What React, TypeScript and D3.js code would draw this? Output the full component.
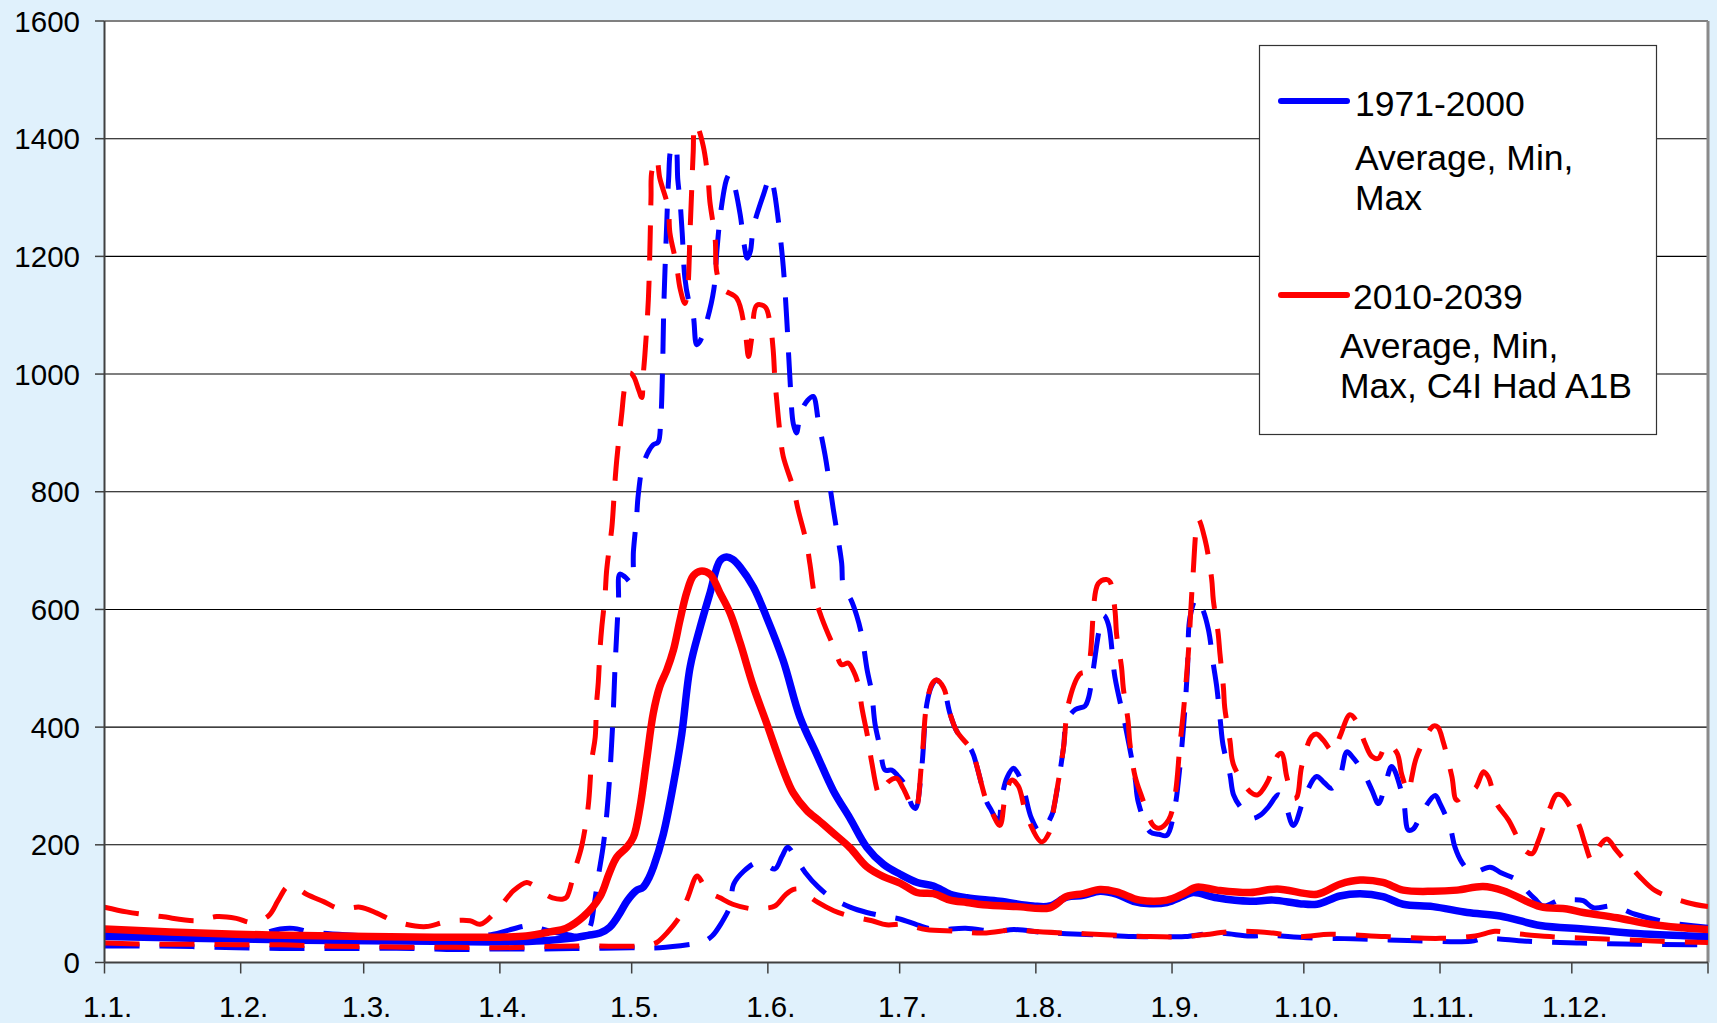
import React from "react";
import * as d3 from "d3";

// ---------- DATA (day of year, value) ----------
const monthTickDays = [0, 31, 59, 90, 120, 151, 181, 212, 243, 273, 304, 334, 365];
const monthTickLabels = ["1.1.", "1.2.", "1.3.", "1.4.", "1.5.", "1.6.", "1.7.", "1.8.", "1.9.", "1.10.", "1.11.", "1.12.", ""];
const yTicks = [0, 200, 400, 600, 800, 1000, 1200, 1400, 1600];

const blueAvg: [number, number][] = [
  [0, 44], [15, 42], [30, 40], [45, 38], [60, 37], [75, 36], [90, 35], [100, 37], [106, 41], [110, 46],
  [112.8, 50], [115, 60], [117, 80], [119, 105], [121, 122], [122.6, 128], [124, 145], [125, 163],
  [127.2, 218], [129.5, 303], [131.4, 388], [133.3, 502], [135.6, 570], [137.8, 627], [140.1, 683],
  [141.6, 689], [143, 685], [144.7, 672], [147.7, 638], [150.7, 587], [154.5, 513], [158.3, 417],
  [162.1, 354], [165.9, 292], [169.7, 245], [173.5, 196], [177.3, 167], [181.1, 150], [185, 136],
  [188.7, 130], [192.5, 116], [196.3, 110], [203.8, 104], [211.4, 96], [215.2, 96], [219, 111],
  [222.8, 114], [226.6, 121], [230.4, 116], [234.2, 104], [238, 100], [241.8, 102], [245.6, 113],
  [247.8, 119], [253.2, 110], [260.8, 104], [266, 106], [272, 100], [276, 99], [281.2, 113],
  [285.8, 117], [291, 112], [295.6, 99], [302.4, 95], [310.2, 85], [317.7, 79], [326.8, 63],
  [336.6, 57], [344.3, 52], [351.8, 48], [365, 44],
];

const redAvg: [number, number][] = [
  [0, 57], [15, 52], [30, 48], [45, 46], [60, 44], [75, 43], [90, 43], [96, 45], [101.4, 52],
  [105, 58], [109, 78], [112.8, 112], [114.8, 150], [116.6, 179], [118.9, 196], [120.4, 213],
  [121.9, 264], [123.4, 344], [124.9, 423], [126.4, 469], [128, 497], [129.5, 531], [131, 582],
  [132.5, 628], [134, 657], [135.6, 665], [137.8, 660], [140.1, 628], [142.4, 594], [144.7, 543],
  [147.7, 469], [150.7, 407], [154.5, 327], [156.8, 288], [159.8, 259], [162.8, 240], [165.9, 220],
  [169.7, 195], [173.5, 163], [177.3, 146], [181.1, 135], [184.9, 119], [188.7, 117], [192.5, 106],
  [196.3, 102], [200, 98], [207.6, 95], [215.2, 93], [219, 112], [222.8, 117], [226.6, 124],
  [230.4, 120], [235.7, 106], [241.8, 106], [245.6, 117], [248.6, 128], [253.2, 123], [260.8, 119],
  [266.9, 125], [276, 116], [281.2, 133], [285.8, 140], [291, 136], [295.6, 123], [302.4, 121],
  [307.9, 123], [313.8, 129], [318.4, 122], [326.8, 95], [332.9, 91], [336.6, 85], [344.3, 76],
  [351.8, 65], [359.3, 59], [365, 56],
];

const blueMin: [number, number][] = [
  [0, 28], [10, 28], [20, 27], [30, 25], [40, 24], [50, 24], [60, 24], [70, 24], [80, 22], [90, 23],
  [100, 23], [110, 24], [120, 25], [126.4, 25], [133.7, 31], [136, 34], [138.3, 45], [140.5, 68],
  [142.4, 96], [143.2, 133], [145.5, 155], [148.5, 170], [150.5, 166], [152.6, 159], [154.2, 180],
  [155.5, 196], [157, 182], [159.5, 153], [162.5, 128], [165.5, 110], [169.7, 94], [173.5, 85],
  [177.3, 79], [181, 74], [185, 64], [189, 56], [196, 58], [203, 53], [207, 56], [214, 51],
  [219, 49], [226, 47], [234, 44], [241, 44], [246, 44], [253, 50], [260.8, 45], [265, 46],
  [273.7, 42], [286, 40], [298.7, 37], [311, 36], [314, 41], [324, 36], [336, 33], [349, 31],
  [361, 30], [365, 30],
];

const redMin: [number, number][] = [
  [0, 33], [10, 31], [20, 31], [30, 30], [40, 30], [50, 28], [60, 27], [70, 26], [80, 26], [90, 25],
  [100, 27], [110, 28], [121.4, 28], [124, 30], [125.7, 34], [128, 50], [131, 79], [132.8, 111],
  [134.9, 147], [136.3, 133], [138, 118], [140.1, 110], [143, 99], [147.6, 91], [150, 92],
  [152.6, 96], [155, 115], [156.7, 124], [158.7, 124], [160.5, 112], [162.4, 102], [166, 88],
  [169.7, 79], [174.7, 71], [178, 64], [181.9, 65], [187, 56], [194, 53], [200, 50], [207.6, 56],
  [211, 53], [219, 50], [223, 49], [231, 46], [238, 44], [246, 44], [250, 47], [258, 53], [266, 50],
  [272, 44], [279, 48], [291.5, 44], [304, 41], [312, 45], [316.5, 53], [320, 50], [329, 44],
  [341.6, 40], [354, 36], [365, 34],
];

const blueMax: [number, number][] = [
  [0, 48], [10, 47], [20, 46], [30, 47], [36, 50], [40, 57], [43, 58], [47, 52], [55, 47], [65, 44],
  [75, 42], [83, 44], [88.5, 48], [92, 55], [96.1, 62], [98, 60], [101, 54], [105, 48], [109, 45],
  [110.5, 60], [111.5, 100], [112.4, 146], [113.5, 197], [114.2, 242], [115, 316], [115.4, 367],
  [115.8, 424], [116.2, 500], [116.6, 560], [117, 615], [117.3, 660], [118.5, 655], [120, 645],
  [120.4, 699], [121.1, 755], [121.5, 795], [122.7, 849], [124.9, 880], [126, 884], [126.6, 920],
  [127, 1000], [127.3, 1110], [127.6, 1180], [128, 1260], [128.4, 1330], [129.1, 1385],
  [129.9, 1388], [130.5, 1330], [131, 1294], [131.5, 1240], [132.1, 1164], [132.9, 1127],
  [134, 1100], [134.8, 1050], [135.5, 1055], [137.1, 1090], [138.7, 1144], [139.4, 1210],
  [140.3, 1277], [141.6, 1331], [142.3, 1340], [143.1, 1328], [144.7, 1271], [145.6, 1220],
  [146.3, 1197], [147, 1208], [147.7, 1249], [150, 1305], [151.5, 1334], [152.2, 1320],
  [153.4, 1260], [154.5, 1183], [155.3, 1093], [156, 996], [156.8, 915], [157.5, 900], [158.5, 935],
  [160, 955], [161.3, 962], [162.5, 920], [164, 863], [164.8, 826], [165.9, 770], [166.7, 733],
  [167.8, 679], [168.2, 639], [170, 615], [171.2, 590], [172.4, 555], [173.6, 497], [174.6, 461],
  [175.4, 405], [176.5, 367], [177.7, 327], [179.2, 327], [180.5, 318], [182.2, 302], [183.8, 267],
  [184.6, 262], [186, 330], [187.2, 440], [188.3, 470], [189.4, 480], [191, 465], [192.5, 422],
  [194, 393], [197, 365], [197.8, 353], [200.8, 273], [201.6, 262], [203.5, 240], [204.2, 279],
  [205.5, 315], [206.9, 330], [208, 320], [209.2, 296], [211, 245], [213, 222], [215.6, 250],
  [216.2, 267], [218.3, 365], [219, 410], [221, 430], [223.2, 436], [224, 450], [227.4, 590],
  [228.5, 575], [230, 485], [232.3, 405], [234.6, 313], [235.3, 273], [238, 222], [240, 218],
  [241.8, 216], [243.7, 267], [244.4, 305], [245.6, 399], [246.5, 497], [247.1, 587], [248.6, 619],
  [250, 600], [251.3, 565], [252.4, 507], [253.2, 467], [254, 410], [254.6, 370], [256.2, 319],
  [257, 285], [259, 260], [261.1, 245], [263, 250], [265, 265], [267.2, 285], [268.5, 275],
  [270.6, 233], [273.3, 284], [275.9, 316], [277.6, 306], [279.3, 296], [281.2, 316], [282.8, 358],
  [284, 350], [286.5, 324], [288.5, 293], [290, 270], [291.5, 301], [293, 333], [295.6, 279],
  [296.8, 225], [297.9, 227], [300.2, 259], [302.9, 284], [304, 270], [306.3, 230], [307.4, 196],
  [309, 170], [311.2, 153], [315.4, 162], [318, 152], [321.8, 139], [324, 120], [325.6, 108],
  [327.5, 96], [331.7, 108], [334, 107], [336.6, 105], [338.9, 93], [343.5, 96], [348.4, 82],
  [356, 68], [365, 60],
];

const redMax: [number, number][] = [
  [0, 94], [5, 86], [8.5, 82], [13, 78], [21, 71], [25.5, 78], [30, 75], [33.5, 68], [37.3, 79],
  [39.5, 105], [41.5, 128], [43, 130], [46, 116], [50, 103], [53.6, 91], [58.2, 94], [62, 84],
  [65.7, 71], [70.7, 62], [73.3, 61], [78.3, 70], [83.2, 71], [85.5, 65], [89.6, 91], [93.1, 122],
  [96.1, 136], [97.2, 133], [99.9, 118], [102, 110], [104.4, 108], [105.2, 111], [107.1, 159],
  [108.6, 197], [110.1, 265], [110.9, 343], [111.7, 383], [112, 439], [112.4, 476], [112.8, 533],
  [113.2, 570], [113.9, 620], [114.3, 666], [115, 710], [115.5, 740], [116.2, 817], [116.6, 854],
  [117.7, 930], [118.5, 980], [119.6, 1002], [120.5, 995], [121.5, 975], [122.3, 960], [122.6, 996],
  [123, 1032], [123.8, 1127], [124.2, 1230], [124.4, 1300], [124.6, 1345], [125.7, 1366],
  [126.4, 1333], [128.3, 1283], [128.7, 1240], [130.2, 1186], [131, 1146], [132.1, 1120],
  [132.7, 1140], [133.3, 1245], [133.7, 1320], [134, 1376], [134.4, 1425], [135, 1420],
  [136.3, 1387], [137.4, 1330], [137.8, 1293], [139, 1230], [139.4, 1172], [140.9, 1144],
  [143.9, 1129], [145.8, 1073], [146.6, 1030], [147.3, 1060], [148.5, 1117], [150.4, 1114],
  [151.5, 1086], [152.2, 1042], [152.6, 991], [153, 957], [153.8, 897], [154.5, 860], [156.8, 806],
  [157.9, 769], [159.8, 713], [160.6, 676], [161.7, 622], [163.3, 585], [166.3, 531], [167.8, 506],
  [169.3, 509], [170.5, 495], [171.6, 472], [172.4, 433], [173.9, 376], [174.6, 342], [176.5, 285],
  [178.4, 307], [180.3, 313], [181.8, 296], [184.5, 259], [186, 340], [187.2, 442], [188.5, 475],
  [189.4, 480], [191, 467], [192.5, 422], [194, 393], [197, 365], [197.8, 353], [200.8, 273],
  [201.6, 262], [203.8, 233], [205, 280], [206.5, 310], [208, 300], [209.9, 250], [213.3, 205],
  [215, 220], [216.2, 267], [218.3, 365], [219.4, 439], [222, 490], [223.6, 496], [226.2, 644],
  [228.1, 651], [228.9, 647], [230, 599], [230.4, 556], [231.5, 502], [231.9, 467], [233, 410],
  [233.4, 373], [234.6, 316], [236.1, 282], [238.7, 233], [240, 228], [242.2, 242], [243.7, 285],
  [244.8, 370], [245.6, 427], [246.7, 525], [247.7, 650], [249, 753], [250.5, 719], [252, 653],
  [252.4, 616], [253.5, 559], [253.9, 525], [254.7, 467], [255, 433], [256.2, 376], [257, 336],
  [260.8, 290], [262.5, 285], [264.6, 305], [267.2, 353], [268, 355], [269.1, 316], [270.6, 279],
  [271.4, 281], [272.5, 333], [274.8, 384], [276, 388], [277.4, 378], [279.7, 358], [281.2, 384],
  [283.5, 421], [285, 410], [286.9, 373], [288.5, 350], [290, 347], [291.9, 372], [294.2, 356],
  [295.3, 319], [296.8, 290], [297.6, 316], [298.7, 350], [302.5, 402], [303.5, 400], [304.8, 373],
  [306.7, 316], [307.8, 276], [310, 290], [312, 296], [313.9, 324], [315, 315], [316.9, 270],
  [319.6, 242], [323.4, 190], [325, 185], [326.4, 207], [329, 262], [330.5, 285], [331.7, 284],
  [335.5, 236], [337, 202], [338.6, 173], [340.4, 199], [342, 210], [344.2, 190], [349.2, 148],
  [353, 122], [360.2, 102], [365, 95],
];

// ---------- LAYOUT ----------
const W = 1717;
const H = 1023;
const X0 = 104.5;
const X1 = 1708;
const Y0 = 962.5;
const Y1 = 21;
const FONT = "'Liberation Sans', Arial, Helvetica, sans-serif";
const BLUE = "#0000FF";
const RED = "#FF0000";

export default function App() {
  const x = d3.scaleLinear().domain([0, 365]).range([X0, X1]);
  const y = d3.scaleLinear().domain([0, 1600]).range([Y0, Y1]);
  const line = d3
    .line<[number, number]>()
    .x((d) => x(d[0]))
    .y((d) => y(d[1]))
    .curve(d3.curveCatmullRom.alpha(0.5));

  const series = [
    { data: blueAvg, color: BLUE, dashed: false },
    { data: blueMin, color: BLUE, dashed: true },
    { data: blueMax, color: BLUE, dashed: true },
    { data: redAvg, color: RED, dashed: false },
    { data: redMin, color: RED, dashed: true },
    { data: redMax, color: RED, dashed: true },
  ];

  return (
    <svg
      width={W}
      height={H}
      style={{ position: "absolute", left: 0, top: 0, display: "block" }}
      fontFamily={FONT}
    >
      <rect x={0} y={0} width={W} height={H} fill="#E0F1FC" />
      <rect x={X0} y={Y1} width={X1 - X0} height={Y0 - Y1} fill="#FFFFFF" />
      <defs>
        <clipPath id="plotClip">
          <rect x={X0} y={Y1 - 4} width={X1 - X0} height={Y0 - Y1 + 4} />
        </clipPath>
      </defs>

      {/* gridlines */}
      {yTicks
        .filter((v) => v > 0 && v < 1600)
        .map((v) => (
          <line key={"g" + v} x1={X0} x2={X1} y1={y(v)} y2={y(v)} stroke="#000" strokeWidth={1.1} />
        ))}

      {/* plot border */}
      <line x1={X0} x2={X1} y1={Y1} y2={Y1} stroke="#808080" strokeWidth={2} />
      <line x1={X1} x2={X1} y1={Y1} y2={Y0} stroke="#8a8a8a" strokeWidth={3} />

      {/* series */}
      <g clipPath="url(#plotClip)">
        {series.map((s, i) => (
          <path
            key={i}
            d={line(s.data) || ""}
            fill="none"
            stroke={s.color}
            strokeWidth={s.dashed ? 5 : 7.5}
            strokeDasharray={s.dashed ? "35 20" : undefined}
            strokeLinejoin="round"
            strokeLinecap={s.dashed ? "butt" : "round"}
          />
        ))}
      </g>

      {/* axes */}
      <line x1={X0} x2={X0} y1={Y1} y2={Y0} stroke="#404040" strokeWidth={2} />
      <line x1={X0} x2={X1} y1={Y0} y2={Y0} stroke="#404040" strokeWidth={2} />

      {yTicks.map((v) => (
        <g key={"y" + v}>
          <line x1={95} x2={X0} y1={y(v)} y2={y(v)} stroke="#404040" strokeWidth={1.5} />
          <text x={80} y={y(v) + 10.5} textAnchor="end" fontSize={29.5} fill="#000">
            {v}
          </text>
        </g>
      ))}

      {monthTickDays.map((d, i) => (
        <g key={"x" + d}>
          <line x1={x(d)} x2={x(d)} y1={Y0} y2={Y0 + 11} stroke="#404040" strokeWidth={1.5} />
          {monthTickLabels[i] && (
            <text x={x(d) + 3} y={1017} textAnchor="middle" fontSize={29.5} fill="#000">
              {monthTickLabels[i]}
            </text>
          )}
        </g>
      ))}

      {/* legend */}
      <rect x={1259.5} y={45.5} width={397} height={389} fill="#FFFFFF" stroke="#333" strokeWidth={1.2} />
      <line x1={1281} x2={1347} y1={101} y2={101} stroke={BLUE} strokeWidth={6} strokeLinecap="round" />
      <text x={1355} y={116} fontSize={35.5} fill="#000">1971-2000</text>
      <text x={1355} y={170} fontSize={35.5} fill="#000">Average, Min,</text>
      <text x={1355} y={210} fontSize={35.5} fill="#000">Max</text>
      <line x1={1281} x2={1347} y1={295} y2={295} stroke={RED} strokeWidth={6} strokeLinecap="round" />
      <text x={1353} y={309} fontSize={35.5} fill="#000">2010-2039</text>
      <text x={1340} y={358} fontSize={35.5} fill="#000">Average, Min,</text>
      <text x={1340} y={398} fontSize={35.5} fill="#000">Max, C4I Had A1B</text>
    </svg>
  );
}
